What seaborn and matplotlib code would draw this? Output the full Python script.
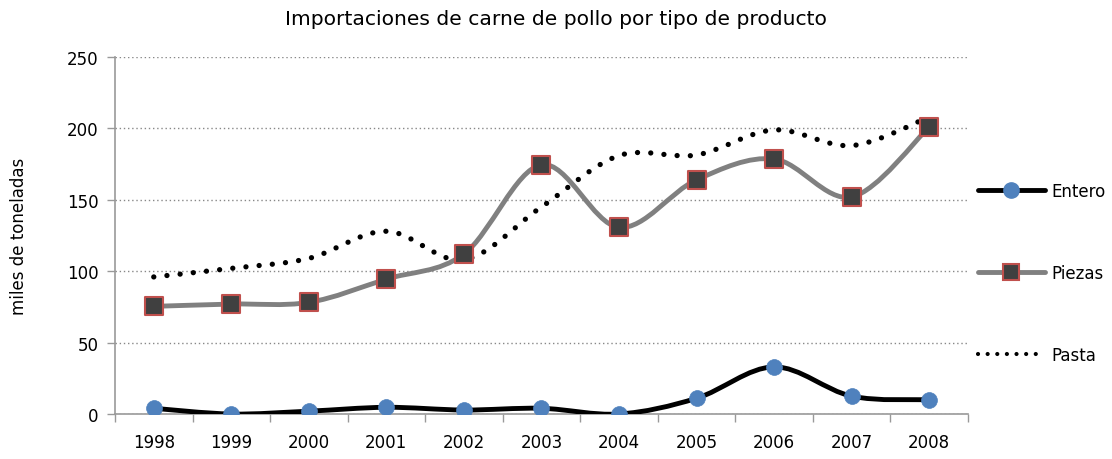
import numpy as np
import pandas as pd
import matplotlib
matplotlib.use("Agg")
import matplotlib.pyplot as plt
from matplotlib.path import Path
from matplotlib.patches import PathPatch
from matplotlib.lines import Line2D
import seaborn as sns

years = ["1998", "1999", "2000", "2001", "2002", "2003", "2004", "2005", "2006", "2007", "2008"]
entero = [4, 0, 2, 4.7, 2.8, 4, 0, 11, 33, 12.5, 10]
piezas = [75.4, 77, 78.2, 94.5, 112, 174.6, 130.7, 164, 178.6, 152, 201]
pasta = [96, 102, 109, 128, 108, 145, 181, 181.4, 199, 188, 208]
title = "Importaciones de carne de pollo por tipo de producto"
ylabel = "miles de toneladas"

sns.set_theme(style="white")
plt.rcParams['font.family'] = ['DejaVu Sans']

fig = plt.figure(figsize=(11.12, 4.6), dpi=100)
ax = fig.add_axes([0.1034, 0.0978, 0.767, 0.776])

xs = np.arange(len(years))
df = pd.DataFrame({"x": np.tile(xs, 3),
                   "y": entero + piezas + pasta,
                   "serie": ["Entero"] * 11 + ["Piezas"] * 11 + ["Pasta"] * 11})


def smooth_path(x, y):
    pts = np.column_stack([x, y]).astype(float)
    n = len(pts)
    verts = [pts[0]]
    codes = [Path.MOVETO]
    for i in range(n - 1):
        p0 = pts[max(i - 1, 0)]
        p1 = pts[i]
        p2 = pts[i + 1]
        p3 = pts[min(i + 2, n - 1)]
        c1 = p1 + (p2 - p0) / 6.0
        c2 = p2 - (p3 - p1) / 6.0
        verts += [c1, c2, p2]
        codes += [Path.CURVE4] * 3
    return Path(verts, codes)


# curves
ax.add_patch(PathPatch(smooth_path(xs, pasta), facecolor="none", edgecolor="black",
                       linewidth=3.8, linestyle=(0, (0.01, 2.5)), capstyle="round", zorder=3))
ax.add_patch(PathPatch(smooth_path(xs, piezas), facecolor="none", edgecolor="#808080",
                       linewidth=3.5, capstyle="round", zorder=3))
ax.add_patch(PathPatch(smooth_path(xs, entero), facecolor="none", edgecolor="black",
                       linewidth=3.5, capstyle="round", zorder=3))

# markers
sns.scatterplot(data=df[df.serie == "Entero"], x="x", y="y", ax=ax, s=130, marker="o",
                color="#4F81BD", edgecolor="#4F81BD", linewidth=0.5, zorder=5, legend=False)
sns.scatterplot(data=df[df.serie == "Piezas"], x="x", y="y", ax=ax, s=150, marker="s",
                color="#404040", edgecolor="#C0504D", linewidth=1.5, zorder=5, legend=False)

ax.set_xlim(-0.5, len(years) - 0.5)
ax.set_ylim(0, 250)
ax.set_yticks([0, 50, 100, 150, 200, 250])
ax.set_xticks(xs)
ax.set_xticklabels(years)
ax.set_xticks(np.arange(-0.5, len(years)), minor=True)
ax.tick_params(axis="x", which="major", length=0, pad=14, labelsize=12, colors="black")
ax.tick_params(axis="x", which="minor", length=6, width=1, color="#999999", direction="out", bottom=True)
ax.tick_params(axis="y", length=6, width=1, color="#999999", direction="out", left=True,
               labelsize=12, pad=6, colors="black")
ax.set_xlabel("")
ax.set_ylabel(ylabel, fontsize=12, labelpad=28, color="black")
ax.yaxis.grid(True, linestyle=(0, (1, 2)), color="#888888", linewidth=1)
ax.xaxis.grid(False)
for s in ["top", "right"]:
    ax.spines[s].set_visible(False)
for s in ["left", "bottom"]:
    ax.spines[s].set_color("#999999")
    ax.spines[s].set_linewidth(1.2)
ax.set_axisbelow(True)

fig.suptitle(title, fontsize=14.6, x=0.5, y=0.978, va="top", color="black")

handles = [
    Line2D([], [], color="black", linewidth=3.5, marker="o", markersize=11,
           markerfacecolor="#4F81BD", markeredgecolor="#4F81BD"),
    Line2D([], [], color="#808080", linewidth=3.5, marker="s", markersize=11,
           markerfacecolor="#404040", markeredgecolor="#C0504D", markeredgewidth=1.5),
    Line2D([], [], color="black", linewidth=3.0, linestyle=(0, (0.01, 2.3)),
           dash_capstyle="round"),
]
fig.legend(handles, ["Entero", "Piezas", "Pasta"], loc="upper left",
           bbox_to_anchor=(0.866, 0.635), frameon=False, fontsize=12,
           handlelength=4.0, labelspacing=3.85, handletextpad=0.4, labelcolor="black")

fig.savefig("out.png", dpi=100)
